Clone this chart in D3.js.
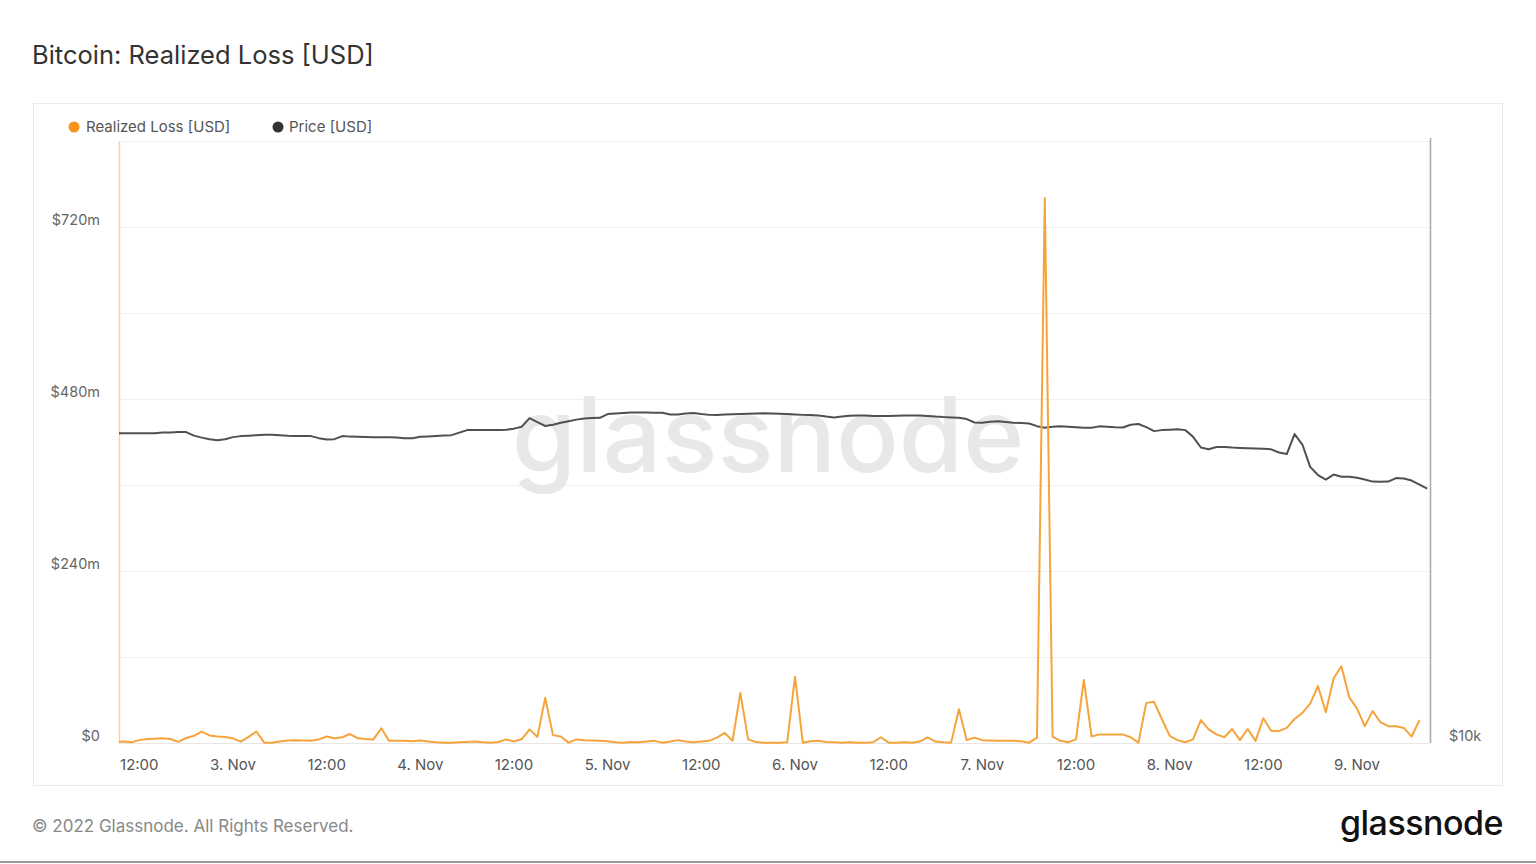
<!DOCTYPE html>
<html><head><meta charset="utf-8">
<script src="https://cdn.jsdelivr.net/npm/d3@7"></script>
<style>
body{margin:0;background:#fff;}
svg{display:block;font-family:Inter,"Noto Sans",sans-serif;}
</style>
</head><body>
<svg id="c" width="1536" height="864"></svg>
<script>
// ---------------- data ----------------
const seriesStart = "2022-11-02T09:00:00Z"; // hourly series
const realizedLoss = [ // USD millions, hourly
  1.5, 2, 1, 4, 5.5, 6, 6.5, 5.5, 1.5, 7,
  10, 16, 10.5, 9, 8.5, 6.5, 2, 8.5, 16, 0.5,
  0.5, 2, 3.5, 4, 3.5, 3, 5, 9, 6.5, 8,
  12.5, 6.5, 5.5, 5, 20.5, 3, 3, 3, 2.5, 3.5,
  2, 1, 0.5, 0.5, 1, 1.5, 2, 1, 0.5, 1.5,
  5, 2, 5.5, 19, 8.5, 63, 11, 9, 0.5, 5,
  4, 3.5, 3, 2.5, 1, 0.5, 1.5, 1, 2, 3,
  0.5, 2, 4, 2, 1, 2, 3, 7.5, 14, 3,
  70, 5, 1.5, 0.5, 0.5, 0.5, 1, 92.5, 0.5, 2.5,
  3, 1.5, 1, 0.5, 1, 0.5, 0.5, 1, 8, 0.5,
  0.5, 1, 0.5, 2, 8, 2, 1, 0.5, 47, 4,
  7.5, 4, 3.5, 3, 3, 3, 2.5, 0.5, 7.5, 760,
  9, 3, 1, 5, 88, 9, 12, 12, 12, 12,
  8, 0.5, 56, 57.5, 33.5, 10, 4, 1, 5, 32,
  19, 12, 8, 19.5, 4, 19.5, 3, 34.5, 17, 16.5,
  21, 33.5, 42, 55, 79.5, 43, 90, 107, 64, 48,
  23.5, 44.5, 29, 23.5, 23.5, 21, 9, 32
];
const price = [ // USD, hourly
  20200, 20200, 20200, 20200, 20200, 20200, 20225, 20225, 20248, 20248,
  20087, 19996, 19927, 19881, 19927, 20019, 20065, 20087, 20110, 20133,
  20133, 20110, 20078, 20065, 20065, 20065, 19973, 19913, 19927, 20065,
  20042, 20032, 20028, 20019, 20019, 20019, 20005, 19973, 19973, 20032,
  20051, 20074, 20097, 20110, 20225, 20340, 20340, 20340, 20340, 20340,
  20362, 20408, 20500, 20903, 20710, 20532, 20592, 20684, 20758, 20830,
  20888, 20903, 20917, 21095, 21119, 21143, 21167, 21172, 21167, 21162,
  21153, 21071, 21071, 21119, 21143, 21095, 21056, 21047, 21071, 21080,
  21095, 21104, 21119, 21128, 21119, 21104, 21095, 21076, 21056, 21047,
  21028, 20975, 20936, 20975, 21018, 21032, 21023, 21008, 20999, 21004,
  21013, 21023, 21028, 21028, 21008, 20975, 20951, 20936, 20922, 20855,
  20696, 20684, 20730, 20758, 20720, 20684, 20670, 20651, 20523, 20454,
  20500, 20523, 20500, 20477, 20454, 20454, 20514, 20500, 20477, 20463,
  20592, 20624, 20477, 20294, 20340, 20362, 20385, 20340, 20032, 19552,
  19473, 19574, 19574, 19548, 19530, 19517, 19508, 19495, 19473, 19332,
  19266, 20156, 19685, 18714, 18368, 18180, 18389, 18297, 18297, 18255,
  18180, 18097, 18089, 18097, 18243, 18222, 18139, 17972, 17814
];
const xDomain = ["2022-11-02T09:24:00Z", "2022-11-09T09:21:00Z"];
const xTickTimes = ["2022-11-02T12:00:00Z","2022-11-03T00:00:00Z","2022-11-03T12:00:00Z","2022-11-04T00:00:00Z",
  "2022-11-04T12:00:00Z","2022-11-05T00:00:00Z","2022-11-05T12:00:00Z","2022-11-06T00:00:00Z",
  "2022-11-06T12:00:00Z","2022-11-07T00:00:00Z","2022-11-07T12:00:00Z","2022-11-08T00:00:00Z",
  "2022-11-08T12:00:00Z","2022-11-09T00:00:00Z"];
const xTickLabels = ["12:00","3. Nov","12:00","4. Nov","12:00","5. Nov","12:00","6. Nov","12:00","7. Nov","12:00","8. Nov","12:00","9. Nov"];
const yDomain = [0, 840];
const yGridValues = [0, 120, 240, 360, 480, 600, 720, 840];
const yLabelValues = [0, 240, 480, 720];
const yLabelTexts = ["$0", "$240m", "$480m", "$720m"];
const priceDomain = [10000, 39200];
const priceLabelValues = [10000];
const priceLabelTexts = ["$10k"];
const legendNames = ["Realized Loss [USD]", "Price [USD]"];
const title = "Bitcoin: Realized Loss [USD]";
const footer = "© 2022 Glassnode. All Rights Reserved.";

// ---------------- drawing ----------------
const svg = d3.select("#c");
const L = 119, R = 1430, T = 141, B = 743;
const HOUR = 3600e3;
const t0 = new Date(seriesStart).getTime();
const lossData = realizedLoss.map((v, i) => ({t: new Date(t0 + i * HOUR), v}));
const priceData = price.map((v, i) => ({t: new Date(t0 + i * HOUR), v}));

const x = d3.scaleUtc().domain(xDomain.map(d => new Date(d))).range([L, R]);
const y = d3.scaleLinear().domain(yDomain).range([B, T]);
const yp = d3.scaleLog().domain(priceDomain).range([B, T]);

svg.append("rect").attr("width", 1536).attr("height", 864).attr("fill", "#fff");

svg.append("text").attr("x", 32).attr("y", 64).attr("font-size", 25.5).attr("fill", "#333")
  .text(title);

// chart box
svg.append("rect").attr("x", 33.5).attr("y", 103.5).attr("width", 1469).attr("height", 682)
  .attr("fill", "#fff").attr("stroke", "#ebebeb").attr("stroke-width", 1);

// grid
svg.append("g").selectAll("line").data(yGridValues).join("line")
  .attr("x1", L).attr("x2", R)
  .attr("y1", d => Math.round(y(d)) + 0.5).attr("y2", d => Math.round(y(d)) + 0.5)
  .attr("stroke", d => d === 0 ? "#e6e6e6" : "#f1f1f1").attr("stroke-width", 1);

// watermark
svg.append("text").attr("x", 768).attr("y", 472).attr("text-anchor", "middle")
  .attr("font-size", 104).attr("font-weight", 500).attr("letter-spacing", 0)
  .attr("fill", "#e8e8e8").text("glassnode");

// axis lines
svg.append("line").attr("x1", L + 0.5).attr("x2", L + 0.5).attr("y1", T).attr("y2", B)
  .attr("stroke", "#f9d2a3").attr("stroke-width", 1.5);
svg.append("line").attr("x1", R + 0.5).attr("x2", R + 0.5).attr("y1", T - 3).attr("y2", B)
  .attr("stroke", "#a8a8a8").attr("stroke-width", 1.5);

// left labels
svg.append("g").selectAll("text").data(yLabelValues).join("text")
  .attr("x", 100).attr("y", d => y(d) - 7).attr("dy", "0.35em").attr("text-anchor", "end")
  .attr("font-size", 14.5).attr("fill", "#666").text((d, i) => yLabelTexts[i]);

// right labels
svg.append("g").selectAll("text").data(priceLabelValues).join("text")
  .attr("x", 1449).attr("y", d => yp(d) - 7).attr("dy", "0.35em").attr("text-anchor", "start")
  .attr("font-size", 14.5).attr("fill", "#666").text((d, i) => priceLabelTexts[i]);

// x labels
svg.append("g").selectAll("text").data(xTickTimes).join("text")
  .attr("x", d => x(new Date(d))).attr("y", 765).attr("dy", "0.35em").attr("text-anchor", "middle")
  .attr("font-size", 15).attr("fill", "#555").text((d, i) => xTickLabels[i]);

// clip
svg.append("clipPath").attr("id", "pc").append("rect")
  .attr("x", L).attr("y", T - 20).attr("width", R - L).attr("height", B - T + 30);

const plot = svg.append("g").attr("clip-path", "url(#pc)");
plot.append("path").datum(priceData)
  .attr("d", d3.line().x(d => x(d.t)).y(d => yp(d.v)))
  .attr("fill", "none").attr("stroke", "#505050").attr("stroke-width", 2).attr("stroke-linejoin", "round");
plot.append("path").datum(lossData)
  .attr("d", d3.line().x(d => x(d.t)).y(d => y(d.v)))
  .attr("fill", "none").attr("stroke", "#f5a43c").attr("stroke-width", 2).attr("stroke-linejoin", "round");

// legend
const leg = svg.append("g");
leg.append("circle").attr("cx", 74).attr("cy", 127).attr("r", 5.5).attr("fill", "#f7931a");
leg.append("text").attr("x", 86).attr("y", 127).attr("dy", "0.35em").attr("font-size", 15).attr("fill", "#555").text(legendNames[0]);
leg.append("circle").attr("cx", 278).attr("cy", 127).attr("r", 5.5).attr("fill", "#333");
leg.append("text").attr("x", 289).attr("y", 127).attr("dy", "0.35em").attr("font-size", 15).attr("fill", "#555").text(legendNames[1]);

// footer
svg.append("text").attr("x", 32).attr("y", 826).attr("dy", "0.35em").attr("font-size", 17).attr("fill", "#888").text(footer);
svg.append("text").attr("x", 1503).attr("y", 835).attr("text-anchor", "end").attr("font-size", 34)
  .attr("font-weight", 500).attr("letter-spacing", -0.5).attr("fill", "#111").text("glassnode");
svg.append("line").attr("x1", 0).attr("x2", 1536).attr("y1", 862).attr("y2", 862).attr("stroke", "#999").attr("stroke-width", 2);
</script>
</body></html>
